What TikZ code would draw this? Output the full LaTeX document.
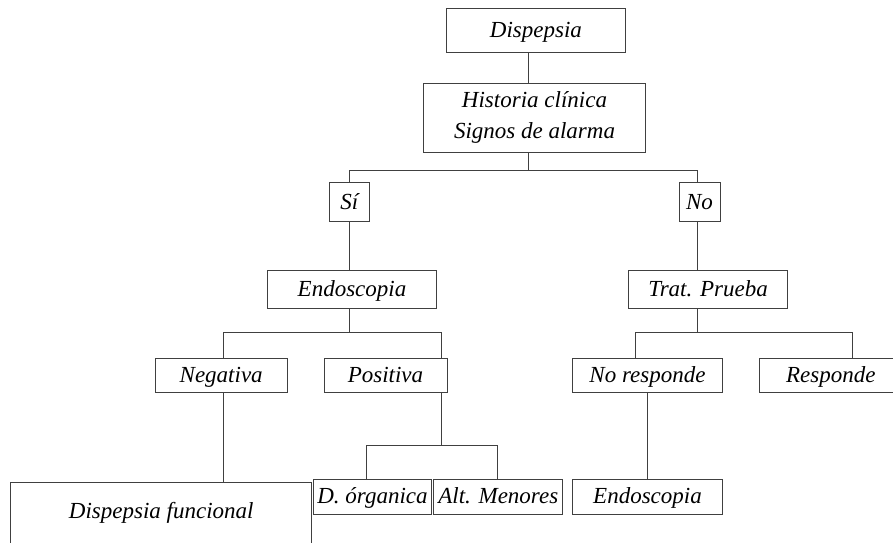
\documentclass[tikz,border=0pt]{standalone}
\usepackage{fontspec}
\setmainfont{Liberation Serif}
\tikzset{
  caja/.style={draw=black!75, line width=1pt, inner sep=0pt, font=\fontsize{23}{31}\selectfont\itshape, align=center},
  uno/.style={text height=18pt, text depth=4pt},
  linea/.style={draw=black!75, line width=1pt}
}
\begin{document}
\begin{tikzpicture}[x=1pt, y=-1pt]
            \clip (0,0) rectangle (893,542);
            %cajas superiores
            \node[caja, uno, minimum width=178.3pt, minimum height=44.4pt] (dispepsia) at (535.9,30.5) {Dispepsia};
            \node[caja, minimum width=222.4pt, minimum height=69pt] (historia) at (534.5,117.8) {Historia clínica\\Signos de alarma};
            \node[caja, uno, minimum width=40pt, minimum height=38.8pt] (si) at (349.3,202.1) {Sí};
            \node[caja, uno, minimum width=41pt, minimum height=38.8pt] (no) at (699.5,202.1) {No};
            
            %rama del si
            \node[caja, uno, minimum width=169.4pt, minimum height=37.6pt] (endo) at (352,289.5) {Endoscopia};
            \node[caja, uno, minimum width=132.3pt, minimum height=34.4pt] (negativa) at (221.2,375.2) {Negativa};
            \node[caja, uno, minimum width=123pt, minimum height=34.4pt] (positiva) at (385.5,375.2) {Positiva};
            \node[caja, anchor=north, minimum width=300.7pt, text height=36pt, text depth=32pt] (funcional) at (161.3,482.3) {Dispepsia funcional};
            \node[caja, uno, minimum width=118.4pt, minimum height=35pt] (organica) at (372.5,496.5) {D. órganica};
            \node[caja, uno, minimum width=128.7pt, minimum height=35pt] (menores) at (498.3,496.5) {Alt. Menores};
            
            %rama del no
            \node[caja, uno, minimum width=158.6pt, minimum height=37.6pt] (prueba) at (708,289.5) {Trat. Prueba};
            \node[caja, uno, minimum width=149.6pt, minimum height=34.4pt] (noresp) at (647.5,375.2) {No responde};
            \node[caja, uno, minimum width=143pt, minimum height=34.4pt] (resp) at (830.8,375.2) {Responde};
            \node[caja, uno, minimum width=149.6pt, minimum height=35pt] (endodos) at (647.5,496.5) {Endoscopia};
            
            %puntos de union
            \coordinate (tronco) at (528.7,170.5);
            \coordinate (sij) at (349,170.5);
            \coordinate (noj) at (697.3,170.5);
            \coordinate (negj) at (223.3,332.7);
            \coordinate (posj) at (441.7,332.7);
            \coordinate (orgj) at (366.7,445);
            \coordinate (menj) at (497.7,445);
            \coordinate (norespj) at (635,332.7);
            \coordinate (respj) at (852.7,332.7);
            
            %conectores
            \draw[linea] (tronco |- dispepsia.south) -- (tronco |- historia.north);
            \draw[linea] (tronco |- historia.south) -- (tronco);
            \draw[linea] (sij |- si.north) -- (sij) -- (noj) -- (noj |- no.north);
            \draw[linea] (sij |- si.south) -- (sij |- endo.north);
            \draw[linea] (sij |- endo.south) -- (sij |- negj);
            \draw[linea] (negj |- negativa.north) -- (negj) -- (posj) -- (posj |- positiva.north);
            \draw[linea] (negj |- negativa.south) -- (negj |- funcional.north);
            \draw[linea] (posj |- positiva.south) -- (posj |- menj);
            \draw[linea] (orgj |- organica.north) -- (orgj) -- (menj) -- (menj |- menores.north);
            \draw[linea] (noj |- no.south) -- (noj |- prueba.north);
            \draw[linea] (noj |- prueba.south) -- (noj |- respj);
            \draw[linea] (norespj |- noresp.north) -- (norespj) -- (respj) -- (respj |- resp.north);
            \draw[linea] (noresp.south) -- (endodos.north);
\end{tikzpicture}
\end{document}
